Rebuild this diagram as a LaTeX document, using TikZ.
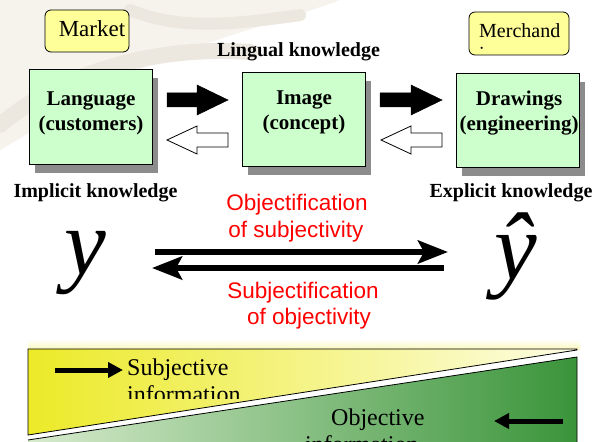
\documentclass[tikz,border=0pt]{standalone}
\usepackage{fontspec}
\setmainfont{Liberation Serif}
\newfontfamily\arialf{Liberation Sans}
\usetikzlibrary{arrows.meta,shadows}
\definecolor{boxgreen}{RGB}{204,255,204}
\definecolor{boxyellow}{RGB}{255,255,153}
\definecolor{shadowgray}{RGB}{140,140,140}
\definecolor{yl}{RGB}{236,234,40}
\definecolor{ym}{RGB}{246,244,140}
\definecolor{yr}{RGB}{253,253,228}
\definecolor{gl}{RGB}{215,235,205}
\definecolor{gm}{RGB}{112,186,108}
\definecolor{gr}{RGB}{58,148,58}
\definecolor{glow}{RGB}{250,248,190}
\definecolor{wma}{RGB}{246,243,237}
\definecolor{wmb}{RGB}{237,232,223}
\tikzset{
  gbox/.style={draw=black, line width=0.8pt, fill=boxgreen, minimum width=123pt,
    minimum height=95pt, inner sep=0pt,
    drop shadow={shadow xshift=6pt, shadow yshift=-9pt, fill=shadowgray, opacity=1}},
  ybox/.style={draw=black, line width=0.8pt, fill=boxyellow, rounded corners=6pt, inner sep=0pt},
  bt/.style={font=\bfseries\fontsize{21}{24}\selectfont, anchor=base, inner sep=0pt},
  kt/.style={font=\bfseries\fontsize{20}{24}\selectfont, anchor=base, inner sep=0pt},
  rt/.style={font=\arialf\fontsize{22.5}{27}\selectfont, text=red, anchor=base, inner sep=0pt},
  nt/.style={font=\fontsize{24}{27}\selectfont, anchor=base west, inner sep=0pt},
  blackarrow/.style={fill=black, draw=black, line width=0.5pt},
  whitearrow/.style={fill=white, draw=black, line width=0.8pt},
  longarrow/.style={line width=6.5pt, -{Stealth[length=30pt 0, width=23pt 0, inset=6pt 0]}},
  smallarrow/.style={line width=5pt, -{Triangle[length=15pt 0, width=15pt 0]}},
  pline/.style={draw=black, line width=0.8pt},
}
\begin{document}
\begin{tikzpicture}[x=1pt,y=-1pt]
\useasboundingbox (0,0) rectangle (596,441);
\fill[white] (0,0) rectangle (596,441);

% faint watermark in the background
\fill[wma] (0,0) -- (340,0) .. controls (260,30) and (150,50) .. (60,115) -- (0,150) -- cycle;
\draw[wmb, line width=16pt, line cap=round] (0,125) .. controls (60,75) and (150,45) .. (250,52);
\draw[wmb, line width=12pt, line cap=round] (130,10) .. controls (180,30) and (230,25) .. (300,15);

% top yellow boxes
\node[ybox, minimum width=84pt, minimum height=42pt] (market) at (87,31) {};
\node[font=\fontsize{23}{26}\selectfont, anchor=base, inner sep=0pt] (markett) at (92,37) {Market};
\node[ybox, minimum width=100pt, minimum height=43pt] (merch) at (519,33.5) {};
\node[font=\fontsize{20}{23}\selectfont, anchor=base west, inner sep=0pt] (mercht) at (479,38) {Merchand};
\begin{scope}
  \clip (470,40) rectangle (568,49);
  \node[font=\fontsize{20}{23}\selectfont, anchor=base west, inner sep=0pt] (merch2) at (479,61) {i};
\end{scope}

\node[kt] (lingual) at (298.5,57) {Lingual knowledge};

% green boxes
\node[gbox] (lang) at (90.5,116.5) {};
\node[bt] (lang1) at (91,106) {Language};
\node[bt] (lang2) at (91,130) {(customers)};
\node[gbox, minimum height=94pt] (image) at (303.5,119) {};
\node[bt] (image1) at (304,105) {Image};
\node[bt] (image2) at (304,129) {(concept)};
\node[gbox, minimum height=94pt] (draw) at (517.5,120) {};
\node[bt] (draw1) at (519,106) {Drawings};
\node[bt] (draw2) at (519,130) {(engineering)};

% block arrows
\filldraw[blackarrow] (167,93) -- (197,93) -- (197,85) -- (228,100) -- (197,115) -- (197,107) -- (167,107) -- cycle;
\filldraw[blackarrow] (380,93) -- (411,93) -- (411,85) -- (442,100) -- (411,115) -- (411,107) -- (380,107) -- cycle;
\filldraw[whitearrow] (167,140) -- (197,126) -- (197,133) -- (228,133) -- (228,147) -- (197,147) -- (197,154) -- cycle;
\filldraw[whitearrow] (381,140) -- (411,126) -- (411,133) -- (442,133) -- (442,147) -- (411,147) -- (411,154) -- cycle;

\node[kt] (implicit) at (95.5,197) {Implicit knowledge};
\node[kt] (explicit) at (511,197) {Explicit knowledge};

% y and y-hat
\node[font=\itshape\fontsize{94}{94}\selectfont, anchor=base, inner sep=0pt] (yv) at (85,274) {y};
\node[font=\itshape\fontsize{96}{96}\selectfont, anchor=base, inner sep=0pt] (yhat) at (516,279) {ŷ};

% long arrows
\coordinate (o1s) at (155,252);
\coordinate (o1e) at (448,252);
\coordinate (s1s) at (444,268);
\coordinate (s1e) at (152,268);
\draw[longarrow] (o1s) -- (o1e);
\draw[longarrow] (s1s) -- (s1e);

\node[rt] (obj1) at (297,210) {Objectification};
\node[rt] (obj2) at (296,237) {of subjectivity};
\node[rt] (sub1) at (303,298) {Subjectification};
\node[rt] (sub2) at (309,324) {of objectivity};

% bottom panel
\shade[top color=white, bottom color=glow] (28,339) rectangle (580,349);
\shade[left color=yl, middle color=ym, right color=yr] (28,349) -- (577,349) -- (577,350) -- (28,435) -- cycle;
\draw[pline] (28,435) -- (28,349) -- (577,349) -- (577,350) -- cycle;
\shade[left color=gl, middle color=gm, right color=gr] (28,440) -- (577,357) -- (577,445) -- (28,445) -- cycle;
\draw[pline] (28,440) -- (577,357) -- (577,445);

\coordinate (sa1) at (55,370);
\coordinate (sa2) at (123,370);
\draw[smallarrow] (sa1) -- (sa2);
\coordinate (oa1) at (563,421);
\coordinate (oa2) at (494,421);
\draw[smallarrow] (oa1) -- (oa2);

\node[nt] (subj1) at (127,375) {Subjective};
\begin{scope}
  \clip (100,380) rectangle (300,398);
  \node[nt] (subj2) at (127,402) {information};
\end{scope}
\node[nt] (objt1) at (331,425) {Objective};
\node[nt] (objt2) at (305,452) {information};
\end{tikzpicture}
\end{document}
